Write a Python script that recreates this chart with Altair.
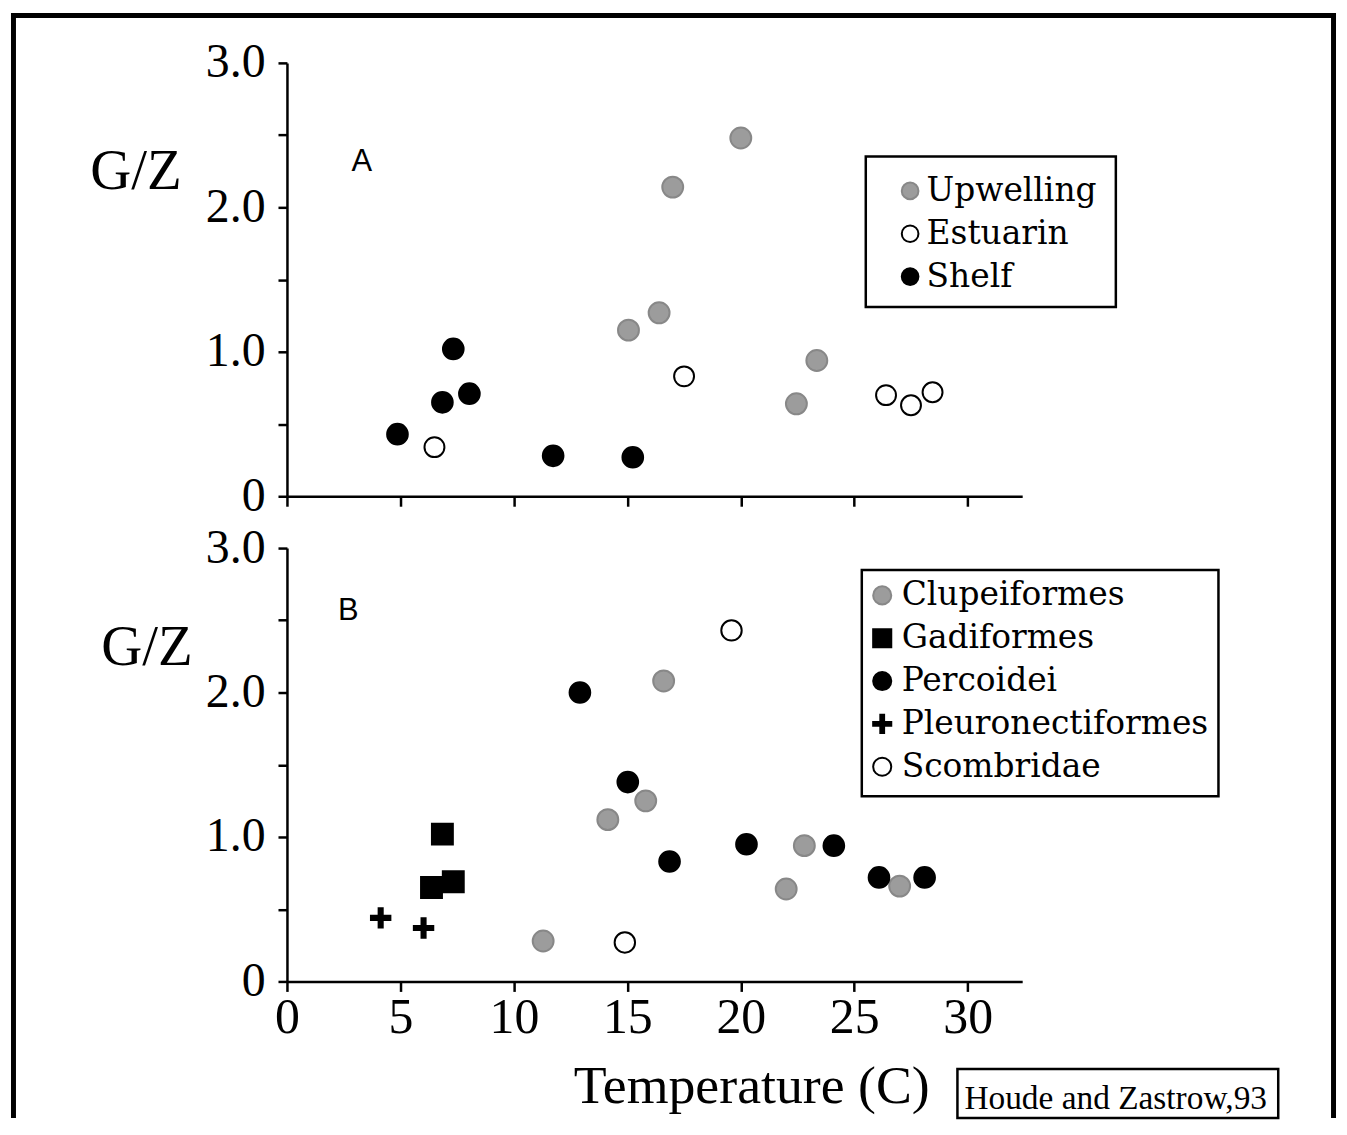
import altair as alt
import pandas as pd

# ---------------- Panel A data ----------------
a_group = ["Upwelling"] * 6 + ["Estuarin"] * 5 + ["Shelf"] * 6
a_temp = [15.05, 16.4, 17.0, 20.0, 22.45, 23.35,
          6.5, 17.5, 26.4, 27.5, 28.45,
          4.87, 6.85, 7.33, 8.04, 11.73, 15.24]
a_gz = [1.15, 1.27, 2.14, 2.48, 0.64, 0.94,
        0.34, 0.83, 0.70, 0.63, 0.72,
        0.43, 0.65, 1.02, 0.71, 0.28, 0.27]
a_cats = ["Upwelling", "Estuarin", "Shelf"]

# ---------------- Panel B data ----------------
b_group = (["Clupeiformes"] * 7 + ["Gadiformes"] * 3 + ["Percoidei"] * 7
           + ["Pleuronectiformes"] * 2 + ["Scombridae"] * 2)
b_temp = [11.29, 14.14, 15.81, 16.6, 22.0, 22.8, 27.0,
          6.85, 6.37, 7.33,
          12.91, 15.02, 16.86, 20.25, 24.1, 26.09, 28.1,
          4.13, 6.02,
          19.59, 14.89]
b_gz = [0.28, 1.12, 1.25, 2.08, 0.64, 0.94, 0.66,
        1.02, 0.65, 0.69,
        2.00, 1.38, 0.83, 0.95, 0.94, 0.72, 0.72,
        0.44, 0.37,
        2.43, 0.27]
b_cats = ["Clupeiformes", "Gadiformes", "Percoidei", "Pleuronectiformes", "Scombridae"]

x_ticks = [0, 5, 10, 15, 20, 25, 30]
y_ticks = [0, 0.5, 1.0, 1.5, 2.0, 2.5, 3.0]

GRAY = "#9c9c9c"
GRAY_EDGE = "#888888"
CROSS = "M-1,-0.21H1V0.21H-1Z M-0.21,-1H0.21V1H-0.21Z"

# marker area per category (style)
SIZE_A = {"Upwelling": 440, "Estuarin": 400, "Shelf": 430}
SIZE_B = {"Clupeiformes": 440, "Gadiformes": 440, "Percoidei": 430,
          "Pleuronectiformes": 380, "Scombridae": 420}

dfA = pd.DataFrame({"group": a_group, "temp": a_temp, "gz": a_gz})
dfA["sz"] = dfA["group"].map(SIZE_A)
dfB = pd.DataFrame({"group": b_group, "temp": b_temp, "gz": b_gz})
dfB["sz"] = dfB["group"].map(SIZE_B)
one = pd.DataFrame({"k": [0]})

W, H = 738, 435
YLAB = "datum.value == 0 ? '0' : (datum.value % 1 == 0 ? format(datum.value, '.1f') : '')"


def x_enc(show_labels):
    if show_labels:
        ax = alt.Axis(values=x_ticks, labels=True, labelFontSize=50, labelPadding=1,
                      labelFlush=False, labelOverlap=False, tickSize=10,
                      title="Temperature (C)", titleFontSize=54, titleFontWeight="normal",
                      titleX=466, titleY=122, titleAlign="center", titleBaseline="alphabetic")
    else:
        ax = alt.Axis(values=x_ticks, labels=False, tickSize=10, title=None)
    return alt.X("temp:Q", scale=alt.Scale(domain=[0, 32.4], nice=False, zero=False), axis=ax)


def y_enc(tx, ty):
    ax = alt.Axis(values=y_ticks, labelExpr=YLAB, labelFontSize=48, labelPadding=13,
                  labelOverlap=False, labelFlush=False, tickSize=9,
                  title="G/Z", titleAngle=0, titleFontSize=57, titleFontWeight="normal",
                  titleX=tx, titleY=ty, titleAlign="center", titleBaseline="middle")
    return alt.Y("gz:Q", scale=alt.Scale(domain=[0, 3], nice=False), axis=ax)


def legend(lx, ly, off, ssize):
    return alt.Legend(orient="none", legendX=lx, legendY=ly, title=None,
                      labelFont="DejaVu Serif", labelFontSize=33, labelColor="black",
                      labelLimit=500, symbolSize=ssize,
                      rowPadding=9, labelOffset=off, symbolStrokeWidth=2, padding=0)


def box(x1, x2, y1, y2, sw=2.5):
    return alt.Chart(one).mark_rect(fill="white", fillOpacity=0, stroke="black", strokeWidth=sw).encode(
        x=alt.value(x1), x2=alt.value(x2), y=alt.value(y1), y2=alt.value(y2))


def rule(x1, x2, y1, y2):
    return alt.Chart(one).mark_rule(color="black", strokeWidth=5).encode(
        x=alt.value(x1), x2=alt.value(x2), y=alt.value(y1), y2=alt.value(y2))


# Outer frame (top, left, right)
frame = alt.layer(
    rule(-277, 1053, -47.5, -47.5),
    rule(-274.5, -274.5, -50, 1059),
    rule(1050.5, 1050.5, -50, 1059),
)

# -------- Panel A --------
pointsA = alt.Chart(dfA).mark_point(opacity=1, fillOpacity=1, strokeWidth=2).encode(
    x=x_enc(False), y=y_enc(-152, 109),
    fill=alt.Fill("group:N", scale=alt.Scale(domain=a_cats, range=[GRAY, "white", "black"]),
                  legend=legend(609, 112, 0, 280)),
    stroke=alt.Stroke("group:N", scale=alt.Scale(domain=a_cats, range=[GRAY_EDGE, "black", "black"])),
    size=alt.Size("sz:Q", scale=None),
)
annA = pd.DataFrame({"label": ["A"], "temp": [3.3], "gz": [2.25]})
textA = alt.Chart(annA).mark_text(font="Liberation Sans", fontSize=31, align="center",
                                  baseline="alphabetic", color="black").encode(
    x=x_enc(False), y=y_enc(-152, 109), text="label:N")

panelA = alt.layer(frame, box(581, 832, 94, 245), pointsA, textA).properties(width=W, height=H)

# -------- Panel B --------
pointsB = alt.Chart(dfB).mark_point(opacity=1, fillOpacity=1, strokeWidth=2).encode(
    x=x_enc(True), y=y_enc(-141, 100),
    fill=alt.Fill("group:N", scale=alt.Scale(domain=b_cats,
                  range=[GRAY, "black", "black", "black", "white"]),
                  legend=legend(581, 31, 3, 330)),
    stroke=alt.Stroke("group:N", scale=alt.Scale(domain=b_cats,
                      range=[GRAY_EDGE, "black", "black", "black", "black"])),
    shape=alt.Shape("group:N", scale=alt.Scale(domain=b_cats,
                    range=["circle", "square", "circle", CROSS, "circle"])),
    size=alt.Size("sz:Q", scale=None),
)
annB = pd.DataFrame({"label": ["B"], "temp": [2.7], "gz": [2.5]})
textB = alt.Chart(annB).mark_text(font="Liberation Sans", fontSize=31, align="center",
                                  baseline="alphabetic", color="black").encode(
    x=x_enc(True), y=y_enc(-141, 100), text="label:N")

credit = pd.DataFrame({"txt": ["Houde and Zastrow,93"]})
creditBox = box(673, 995, 523, 572, sw=2.5)
creditText = alt.Chart(credit).mark_text(font="Liberation Serif", fontSize=33.5, align="left",
                                         baseline="alphabetic", color="black").encode(
    x=alt.value(680), y=alt.value(563), text="txt:N")

panelB = alt.layer(box(577, 935, 22, 249), creditBox, creditText, pointsB, textB).properties(width=W, height=H)

chart = alt.vconcat(panelA, panelB, spacing=52, bounds="flush").resolve_scale(
    x="independent", y="independent", fill="independent", stroke="independent",
    shape="independent"
).configure(padding=0, background="white").configure_view(stroke=None).configure_axis(
    grid=False, domainColor="black", tickColor="black", labelColor="black", titleColor="black",
    domainWidth=2.5, tickWidth=2.5, labelFont="Liberation Serif", titleFont="Liberation Serif"
)

chart.save("out.html", embed_options={"renderer": "svg", "actions": False})
